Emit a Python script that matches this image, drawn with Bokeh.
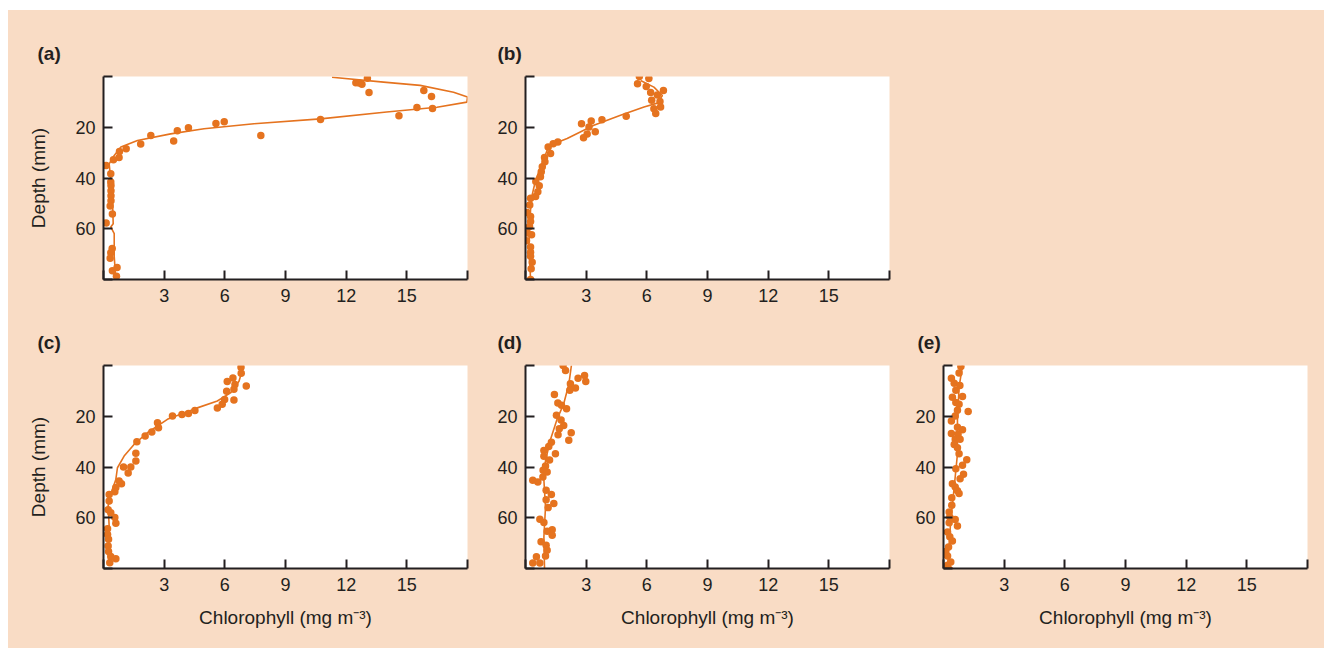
from bokeh.plotting import figure
from bokeh.layouts import gridplot
from bokeh.models import Range1d, FixedTicker, Title
from bokeh.embed import file_html
from bokeh.resources import INLINE

PEACH = "#F9DCC5"
ORANGE = "#E5731F"
INK = "#231F20"
FONT = "Liberation Sans"

x_ticks = [0, 3, 6, 9, 12, 15, 18]
x_tick_labels = ["", "3", "6", "9", "12", "15", ""]
y_ticks = [0, 20, 40, 60, 80]
y_tick_labels = ["", "20", "40", "60", ""]
x_title = "Chlorophyll (mg m\u207b\u00b3)"
y_title = "Depth (mm)"

# ---- panel (a) ----
a_chl = [13.05, 12.48, 12.65, 12.78, 13.13, 15.84, 16.22, 15.5, 16.27, 14.61, 10.73, 5.97, 5.56,
         4.2, 3.65, 3.47, 7.78, 2.34, 1.84, 1.12, 0.79, 0.77, 0.49, 0.13, 0.36, 0.36, 0.37, 0.37,
         0.37, 0.37, 0.33, 0.44, 0.13, 0.43, 0.36, 0.33, 0.67, 0.44, 0.64]
a_depth = [0.7, 2.5, 2.6, 3.1, 6.3, 5.5, 7.9, 12.2, 12.6, 15.5, 16.9, 17.8, 18.5,
           20.2, 21.4, 25.4, 23.3, 23.3, 26.6, 28.5, 29.6, 31.9, 32.8, 35.1, 38.3, 41.6, 43.0, 45.0,
           47.0, 49.0, 51.0, 54.2, 57.7, 67.8, 69.5, 71.6, 75.3, 76.6, 78.7]
a_fit_chl = [11.3, 13.85, 15.66, 17.31, 18.0, 17.97, 16.49, 14.0, 10.73, 7.44, 4.97, 3.32, 1.68,
             0.86, 0.53, 0.28, 0.33, 0.44, 0.48, 0.36, 0.53, 0.53, 0.61]
a_fit_depth = [0.3, 2.2, 3.5, 6.2, 8.1, 10.1, 12.1, 14.0, 16.7, 18.6, 20.6, 22.6, 25.2,
               27.8, 31.1, 34.4, 38.3, 47.5, 58.0, 59.3, 61.9, 71.0, 80.0]

# ---- panel (b) ----
b_chl = [5.63, 6.1, 5.54, 5.97, 6.82, 6.19, 6.52, 6.24, 6.65, 6.68, 6.35, 6.44, 4.98, 3.78, 3.25,
         2.77, 3.14, 3.45, 3.05, 2.87, 1.6, 1.37, 1.12, 1.24, 0.94, 0.96, 0.83, 0.78, 0.74, 0.51,
         0.68, 0.61, 0.5, 0.25, 0.21, 0.08, 0.25, 0.25, 0.2, 0.08, 0.3, 0.05, 0.25, 0.25, 0.25,
         0.33, 0.28, 0.25]
b_depth = [0.0, 0.8, 2.9, 3.9, 5.5, 6.3, 7.3, 9.4, 9.9, 12.0, 12.7, 14.6, 15.7, 17.0, 17.5,
           18.6, 19.9, 21.8, 22.7, 24.1, 25.8, 26.5, 27.8, 30.3, 31.9, 33.6, 35.6, 37.5, 39.5, 41.4,
           43.1, 45.4, 47.3, 48.0, 50.6, 53.6, 55.2, 57.1, 59.1, 61.7, 62.4, 64.7, 67.2, 69.3, 70.8,
           73.2, 75.8, 80.0]
b_fit_chl = [5.69, 6.35, 6.77, 6.52, 5.86, 4.7, 3.38, 2.06, 1.4, 1.07, 0.83, 0.5, 0.33, 0.25,
             0.17, 0.25]
b_fit_depth = [1.6, 4.2, 7.5, 10.5, 12.0, 15.3, 19.2, 24.4, 26.5, 29.1, 34.2, 40.8, 46.7, 52.5,
               65.6, 80.0]

# ---- panel (c) ----
c_chl = [6.8, 6.81, 6.4, 6.12, 6.5, 7.06, 6.45, 6.09, 6.45, 5.99, 5.87, 5.63, 4.52, 4.2, 3.88,
         3.41, 2.67, 2.72, 2.39, 2.06, 1.65, 1.6, 1.6, 1.35, 0.99, 1.22, 0.89, 0.77, 0.61, 0.56,
         0.28, 0.28, 0.23, 0.36, 0.56, 0.61, 0.2, 0.2, 0.25, 0.23, 0.25, 0.61, 0.36, 0.31]
c_depth = [0.7, 3.1, 4.9, 6.3, 7.5, 8.1, 9.4, 10.1, 13.6, 13.4, 15.3, 16.7, 17.7, 18.9, 19.3,
           19.9, 22.6, 24.5, 26.2, 27.8, 30.0, 34.6, 37.6, 40.0, 40.0, 42.4, 46.6, 45.5, 48.1, 49.8,
           50.8, 53.4, 56.8, 58.0, 59.9, 62.2, 64.3, 66.6, 68.5, 71.1, 73.3, 76.2, 75.3, 77.7]
c_fit_chl = [6.86, 6.7, 6.28, 5.63, 4.64, 3.16, 2.17, 1.51, 1.02, 0.69, 0.61, 0.44, 0.23, 0.28,
             0.23, 0.28]
c_fit_depth = [2.0, 6.2, 10.8, 14.0, 16.7, 21.2, 26.5, 31.1, 35.7, 40.3, 44.9, 48.8, 55.3, 63.2,
               73.7, 79.0]

# ---- panel (d) ----
d_chl = [1.86, 1.98, 2.92, 2.6, 2.98, 2.22, 2.47, 2.19, 1.43, 1.6, 1.78, 2.03, 1.53, 1.76, 1.89,
         1.67, 2.26, 1.61, 2.14, 1.28, 1.15, 0.91, 1.48, 0.91, 1.19, 0.99, 0.87, 1.07, 0.36, 0.61,
         0.86, 1.02, 1.28, 1.02, 1.4, 1.12, 0.71, 0.91, 1.32, 1.07, 1.32, 0.77, 1.02, 1.07, 0.99,
         0.54, 0.36, 0.71]
d_depth = [0.0, 2.0, 3.9, 5.0, 6.3, 7.2, 8.9, 9.8, 11.4, 14.8, 15.7, 17.0, 19.6, 21.5, 23.6,
           24.9, 26.5, 27.3, 29.5, 30.2, 31.9, 33.5, 34.8, 35.8, 37.2, 39.6, 41.3, 42.0, 45.2, 45.9,
           43.9, 49.2, 50.8, 52.9, 54.4, 56.0, 60.6, 61.9, 64.7, 65.3, 66.9, 69.5, 70.8, 72.8, 75.1,
           75.4, 77.8, 77.8]
d_fit_chl = [2.27, 2.14, 1.89, 1.56, 1.24, 0.99, 0.91, 0.99, 0.91, 0.94]
d_fit_depth = [0.0, 7.5, 15.1, 21.2, 29.1, 37.4, 45.2, 55.7, 67.5, 80.0]

# ---- panel (e) ----
e_chl = [0.86, 0.77, 0.39, 0.53, 0.81, 0.61, 0.44, 0.94, 0.61, 0.77, 1.22, 0.69, 0.58, 0.39,
         0.69, 0.94, 0.39, 0.72, 0.58, 0.82, 0.53, 0.69, 0.77, 1.15, 0.94, 0.99, 0.61, 0.82, 0.44,
         0.58, 0.69, 0.77, 0.41, 0.41, 0.28, 0.31, 0.58, 0.28, 0.69, 0.2, 0.31, 0.44, 0.25, 0.07,
         0.2, 0.36, 0.2, 0.28]
e_depth = [0.4, 3.0, 5.0, 7.0, 7.9, 9.8, 12.5, 12.2, 14.6, 15.3, 18.1, 17.6, 19.9, 21.9, 24.3,
           25.3, 26.8, 27.1, 29.1, 29.1, 31.1, 32.4, 34.8, 37.1, 39.3, 42.9, 40.7, 44.6, 46.6, 47.9,
           49.4, 50.4, 52.1, 55.1, 57.7, 59.7, 60.7, 62.0, 63.3, 65.6, 67.5, 69.2, 71.5, 73.4, 75.1,
           77.4, 78.7, 80.4]
e_fit_chl = [0.94, 0.77, 0.69, 0.69, 0.53, 0.36, 0.2]
e_fit_depth = [0.0, 8.5, 21.6, 34.8, 47.9, 61.0, 80.0]


def style_axes(p, show_x_title, show_y_title):
    for ax in (p.xaxis[0], p.yaxis[0]):
        ax.axis_line_color = INK
        ax.axis_line_width = 2
        ax.major_tick_line_color = INK
        ax.major_tick_line_width = 2
        ax.major_tick_in = 9
        ax.major_tick_out = 0
        ax.minor_tick_line_color = None
        ax.major_label_text_font = FONT
        ax.major_label_text_font_size = "18px"
        ax.major_label_text_color = INK
        ax.axis_label_text_font = FONT
        ax.axis_label_text_font_size = "19px"
        ax.axis_label_text_font_style = "normal"
        ax.axis_label_text_color = INK
    xa, ya = p.xaxis[0], p.yaxis[0]
    xa.ticker = FixedTicker(ticks=x_ticks)
    xa.major_label_overrides = {t: l for t, l in zip(x_ticks, x_tick_labels)}
    xa.major_label_standoff = 9
    ya.ticker = FixedTicker(ticks=y_ticks)
    ya.major_label_overrides = {t: l for t, l in zip(y_ticks, y_tick_labels)}
    ya.major_label_standoff = 8
    if show_x_title:
        xa.axis_label = x_title
        xa.axis_label_standoff = 13
    if show_y_title:
        ya.axis_label = y_title
        ya.axis_label_standoff = 23


def panel(letter, chl, depth, fit_chl, fit_depth, width, height, left, right, top, bottom,
          show_x_title, show_y_title, label_dx):
    p = figure(width=width, height=height, output_backend="svg", toolbar_location=None,
               x_range=Range1d(0, 18), y_range=Range1d(80, 0),
               min_border_left=left, min_border_right=right,
               min_border_top=top, min_border_bottom=bottom,
               border_fill_color=PEACH, background_fill_color="white",
               outline_line_color=None)
    p.xgrid.visible = False
    p.ygrid.visible = False
    style_axes(p, show_x_title, show_y_title)
    p.line(fit_chl, fit_depth, line_color=ORANGE, line_width=1.6)
    p.scatter(chl, depth, size=7.5, fill_color=ORANGE, line_color=None)
    p.add_layout(Title(text=letter, align="left", offset=label_dx, standoff=26,
                       text_font=FONT, text_font_size="19px", text_font_style="bold",
                       text_color=INK), "above")
    return p


ROW1_H, ROW2_H = 305, 333
pa = panel("(a)", a_chl, a_depth, a_fit_chl, a_fit_depth, 482, ROW1_H, 95, 23, 66, 36,
           False, True, -66)
pb = panel("(b)", b_chl, b_depth, b_fit_chl, b_fit_depth, 420, ROW1_H, 35, 21, 66, 36,
           False, False, -28)
blank = figure(width=414, height=ROW1_H, output_backend="svg", toolbar_location=None,
               x_axis_location=None, y_axis_location=None,
               border_fill_color=PEACH, background_fill_color=PEACH, outline_line_color=None,
               min_border=0)
blank.xgrid.visible = False
blank.ygrid.visible = False
pc = panel("(c)", c_chl, c_depth, c_fit_chl, c_fit_depth, 482, ROW2_H, 95, 23, 50, 80,
           True, True, -66)
pd_ = panel("(d)", d_chl, d_depth, d_fit_chl, d_fit_depth, 420, ROW2_H, 35, 21, 50, 80,
            True, False, -28)
pe = panel("(e)", e_chl, e_depth, e_fit_chl, e_fit_depth, 414, ROW2_H, 33, 17, 50, 80,
           True, False, -26)

grid = gridplot([[pa, pb, blank], [pc, pd_, pe]], toolbar_location=None)
grid.styles = {"background-color": PEACH, "margin-left": "8px", "margin-top": "10px"}

open("out.html", "w").write(file_html(grid, INLINE))
